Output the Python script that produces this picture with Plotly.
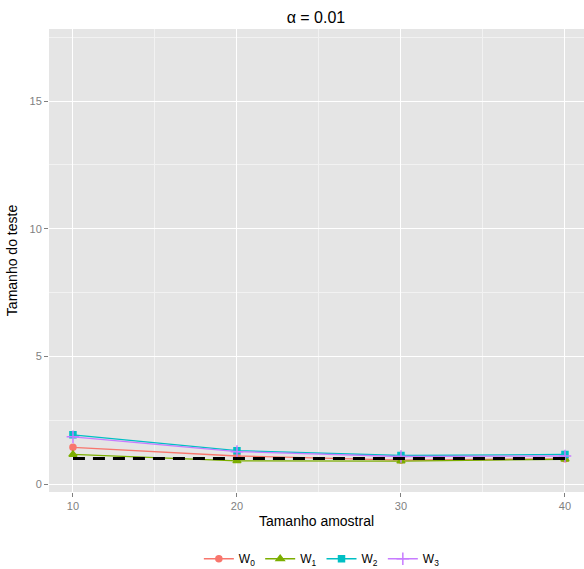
import plotly.graph_objects as go

n = [10, 20, 30, 40]
w0 = [1.44, 1.10, 0.94, 0.99]
w1 = [1.16, 0.91, 0.90, 0.97]
w2 = [1.93, 1.31, 1.12, 1.16]
w3 = [1.85, 1.27, 1.08, 1.10]
nominal = [1.0, 1.0, 1.0, 1.0]

series = [
    ("W<sub>0</sub>", w0, "#F8766D", "circle", 6),
    ("W<sub>1</sub>", w1, "#7CAE00", "triangle-up", 7),
    ("W<sub>2</sub>", w2, "#00BFC4", "square", 6),
    ("W<sub>3</sub>", w3, "#C77CFF", "cross-thin-open", 9),
]

fig = go.Figure()
for name, vals, col, sym, sz in series:
    fig.add_trace(go.Scatter(
        x=n, y=vals, name=name, mode="lines+markers",
        line=dict(color=col, width=1.3),
        marker=dict(color=col, symbol=sym, size=sz, line=dict(color=col, width=1.5)),
    ))

fig.add_trace(go.Scatter(
    x=n, y=nominal, mode="lines", showlegend=False,
    line=dict(color="black", width=3, dash="12px,8px"),
))

fig.update_layout(
    width=584, height=569,
    margin=dict(l=49, r=0, t=29, b=77, autoexpand=False),
    paper_bgcolor="white",
    plot_bgcolor="#E5E5E5",
    font=dict(family="Liberation Sans, Arial, sans-serif", color="black"),
    title=dict(text="α = 0.01", x=0.541, xanchor="center", y=0.97, yanchor="middle",
               font=dict(size=16, color="black")),
    legend=dict(orientation="h", x=0.51, xanchor="center", yref="container",
                y=0.018, yanchor="middle", tracegroupgap=0,
                font=dict(size=12), bgcolor="rgba(0,0,0,0)", itemwidth=30),
    showlegend=True,
)

fig.update_xaxes(
    range=[8.54, 41.16], tickvals=[10, 20, 30, 40],
    showgrid=True, gridcolor="white", gridwidth=1.2,
    minor=dict(tickvals=[15, 25, 35], showgrid=True, gridcolor="#F2F2F2", gridwidth=0.6),
    ticks="outside", ticklen=4, tickcolor="#7F7F7F",
    tickfont=dict(size=11, color="#7F7F7F"),
    zeroline=False, showline=False, automargin=False,
    title=dict(text="Tamanho amostral", font=dict(size=14, color="black"), standoff=4),
)
fig.update_yaxes(
    range=[-0.31, 17.82], tickvals=[0, 5, 10, 15],
    showgrid=True, gridcolor="white", gridwidth=1.2,
    minor=dict(tickvals=[2.5, 7.5, 12.5, 17.5], showgrid=True, gridcolor="#F2F2F2", gridwidth=0.6),
    ticks="outside", ticklen=4, tickcolor="#7F7F7F",
    tickfont=dict(size=11, color="#7F7F7F"),
    zeroline=False, showline=False, automargin=False,
    title=dict(text="Tamanho do teste", font=dict(size=14, color="black"), standoff=8),
)

fig.write_html("out.html")
